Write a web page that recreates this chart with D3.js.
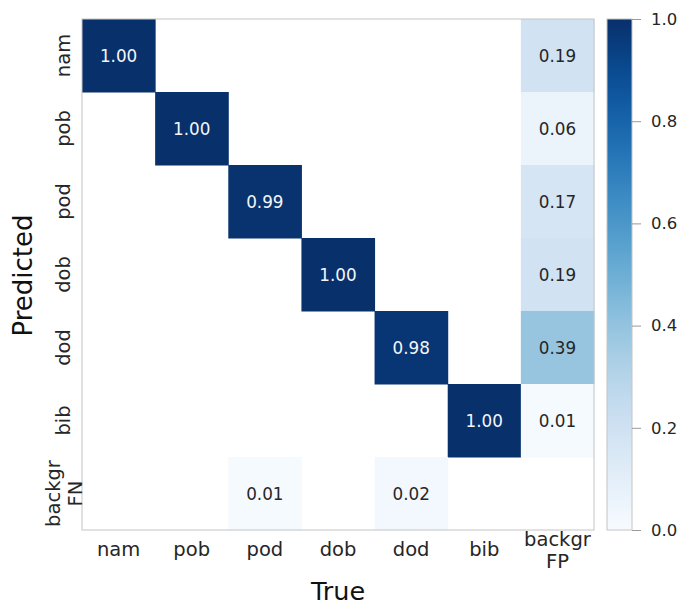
<!DOCTYPE html>
<html>
<head>
<meta charset="utf-8">
<script src="https://cdn.jsdelivr.net/npm/d3@7"></script>
<style>
  body { margin: 0; background: #fff; }
  text { font-family: "DejaVu Sans", sans-serif; }
</style>
</head>
<body>
<script>
// class names (rows = Predicted, columns = True)
const trueLabels = ["nam", "pob", "pod", "dob", "dod", "bib", "backgr\nFP"];
const predLabels = ["nam", "pob", "pod", "dob", "dod", "bib", "backgr\nFN"];

// normalised confusion matrix, null = blank cell
const rowNam = [1.00, null, null, null, null, null, 0.19];
const rowPob = [null, 1.00, null, null, null, null, 0.06];
const rowPod = [null, null, 0.99, null, null, null, 0.17];
const rowDob = [null, null, null, 1.00, null, null, 0.19];
const rowDod = [null, null, null, null, 0.98, null, 0.39];
const rowBib = [null, null, null, null, null, 1.00, 0.01];
const rowBg  = [null, null, 0.01, null, 0.02, null, null];
const matrix = [rowNam, rowPob, rowPod, rowDob, rowDod, rowBib, rowBg];

const colorTicks = [0, 0.2, 0.4, 0.6, 0.8, 1.0];

let svg = d3.select("body")
    .append("svg")
    .attr("width", 679)
    .attr("height", 605);

const pLeft = 82, pTop = 19, pRight = 594, pBottom = 530;

let x = d3.scaleBand().domain(d3.range(trueLabels.length)).range([pLeft, pRight]);
let y = d3.scaleBand().domain(d3.range(predLabels.length)).range([pTop, pBottom]);
let color = d3.scaleSequential(d3.interpolateBlues).domain([0, 1]);

// cells
let cells = [];
matrix.forEach((row, i) => row.forEach((v, j) => {
    if (v !== null) cells.push({i: i, j: j, v: v});
}));

svg.append("g").selectAll("rect")
    .data(cells)
    .enter()
    .append("rect")
    .attr("x", d => x(d.j))
    .attr("y", d => y(d.i))
    .attr("width", x.bandwidth() + 0.5)
    .attr("height", y.bandwidth() + 0.5)
    .attr("fill", d => color(d.v));

svg.append("g").selectAll("text")
    .data(cells)
    .enter()
    .append("text")
    .attr("x", d => x(d.j) + x.bandwidth() / 2)
    .attr("y", d => y(d.i) + y.bandwidth() / 2)
    .attr("dy", "0.36em")
    .attr("text-anchor", "middle")
    .attr("font-size", 16.8)
    .attr("fill", d => d.v > 0.6 ? "#f4f6fa" : "#262626")
    .text(d => d.v.toFixed(2));

// frame
svg.append("rect")
    .attr("x", pLeft).attr("y", pTop)
    .attr("width", pRight - pLeft).attr("height", pBottom - pTop)
    .attr("fill", "none")
    .attr("stroke", "#c4c4c4")
    .attr("stroke-width", 1);

// x tick labels
let xt = svg.append("g").selectAll("text")
    .data(trueLabels)
    .enter()
    .append("text")
    .attr("text-anchor", "middle")
    .attr("font-size", 19.5)
    .attr("fill", "#262626")
    .attr("transform", (d, j) => {
        let lines = d.split("\n").length;
        return "translate(" + (x(j) + x.bandwidth() / 2) + "," + (lines > 1 ? 546 : 556) + ")";
    });
xt.selectAll("tspan")
    .data(d => d.split("\n"))
    .enter()
    .append("tspan")
    .attr("x", 0)
    .attr("dy", (d, k) => k === 0 ? 0 : 22)
    .text(d => d);

// y tick labels (rotated)
let yt = svg.append("g").selectAll("text")
    .data(predLabels)
    .enter()
    .append("text")
    .attr("text-anchor", "middle")
    .attr("font-size", 19.5)
    .attr("fill", "#262626")
    .attr("transform", (d, i) => {
        let lines = d.split("\n").length;
        return "translate(" + (lines > 1 ? 60 : 70) + "," + (y(i) + y.bandwidth() / 2) + ") rotate(-90)";
    });
yt.selectAll("tspan")
    .data(d => d.split("\n"))
    .enter()
    .append("tspan")
    .attr("x", 0)
    .attr("dy", (d, k) => k === 0 ? 0 : 22)
    .text(d => d);

// axis titles
svg.append("text")
    .attr("x", (pLeft + pRight) / 2)
    .attr("y", 600)
    .attr("text-anchor", "middle")
    .attr("font-size", 25.5)
    .attr("fill", "#111")
    .text("True");

svg.append("text")
    .attr("transform", "translate(32," + ((pTop + pBottom) / 2 + 1) + ") rotate(-90)")
    .attr("text-anchor", "middle")
    .attr("font-size", 26)
    .attr("fill", "#111")
    .text("Predicted");

// colorbar
const cbX = 607, cbW = 25;
let cScale = d3.scaleLinear().domain([0, 1]).range([pBottom, pTop]);

let grad = svg.append("defs").append("linearGradient")
    .attr("id", "cbar")
    .attr("x1", 0).attr("y1", 1).attr("x2", 0).attr("y2", 0);
grad.selectAll("stop")
    .data(d3.range(0, 1.0001, 0.05))
    .enter()
    .append("stop")
    .attr("offset", d => d)
    .attr("stop-color", d => color(d));

svg.append("rect")
    .attr("x", cbX).attr("y", pTop)
    .attr("width", cbW).attr("height", pBottom - pTop)
    .attr("fill", "url(#cbar)")
    .attr("stroke", "#c4c4c4")
    .attr("stroke-width", 1);

let cAxis = svg.append("g")
    .attr("transform", "translate(" + (cbX + cbW) + ",0)")
    .call(d3.axisRight(cScale).tickValues(colorTicks).tickFormat(d3.format(".1f")).tickSize(9).tickPadding(10));
cAxis.select(".domain").remove();
cAxis.selectAll("line").attr("stroke", "#9a9a9a");
cAxis.selectAll("text")
    .attr("font-size", 16.5)
    .attr("fill", "#262626")
    .style("font-family", "DejaVu Sans, sans-serif");
</script>
</body>
</html>
